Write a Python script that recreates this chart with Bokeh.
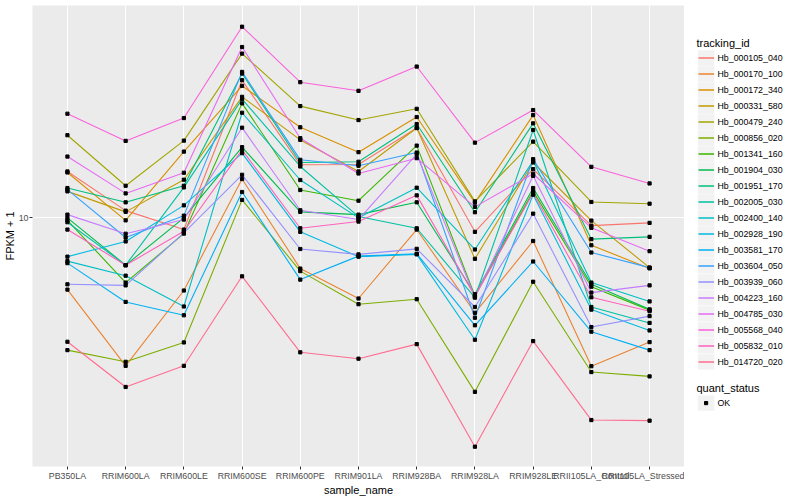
from bokeh.plotting import figure
from bokeh.models import FactorRange, Range1d, FixedTicker, BasicTickFormatter
from bokeh.layouts import row
from bokeh.embed import file_html
from bokeh.resources import INLINE
from bokeh.core.properties import value

samples = ["PB350LA", "RRIM600LA", "RRIM600LE", "RRIM600SE", "RRIM600PE", "RRIM901LA",
           "RRIM928BA", "RRIM928LA", "RRIM928LE", "RRII105LA_Control", "RRII105LA_Stressed"]

tracking_ids = ["Hb_000105_040", "Hb_000170_100", "Hb_000172_340", "Hb_000331_580", "Hb_000479_240",
                "Hb_000856_020", "Hb_001341_160", "Hb_001904_030", "Hb_001951_170", "Hb_002005_030",
                "Hb_002400_140", "Hb_002928_190", "Hb_003581_170", "Hb_003604_050", "Hb_003939_060",
                "Hb_004223_160", "Hb_004785_030", "Hb_005568_040", "Hb_005832_010", "Hb_014720_020"]

colors = ["#F8766D", "#EA8331", "#D89000", "#C09B00", "#A3A500", "#7CAE00", "#39B600", "#00BB4E",
          "#00BF7D", "#00C1A3", "#00BFC4", "#00BAE0", "#00B0F6", "#35A2FF", "#9590FF", "#C77CFF",
          "#E76BF3", "#FA62DB", "#FF62BC", "#FF6C91"]

# FPKM + 1 per sample (order of `samples`)
hb_000105_040 = [14.27, 10.55, 9.12, 28.84, 15.02, 15.05, 19.95, 8.96, 14.53, 9.40, 9.60]
hb_000170_100 = [5.74, 3.19, 5.70, 13.46, 6.75, 5.36, 9.12, 4.80, 8.35, 3.18, 3.83]
hb_000172_340 = [14.16, 9.79, 16.63, 27.61, 20.06, 16.56, 21.71, 11.22, 22.04, 8.08, 6.76]
hb_000331_580 = [12.24, 10.45, 13.39, 25.37, 18.20, 14.27, 19.95, 7.28, 15.29, 9.77, 6.80]
hb_000479_240 = [18.87, 12.78, 18.10, 35.40, 23.62, 21.21, 23.13, 11.33, 17.96, 11.28, 11.13]
hb_000856_020 = [3.60, 3.29, 3.82, 11.46, 6.62, 5.13, 5.33, 2.61, 6.10, 3.04, 2.94]
hb_001341_160 = [9.79, 6.06, 8.84, 24.12, 12.37, 11.39, 17.42, 5.47, 12.24, 5.87, 4.90]
hb_001904_030 = [9.98, 6.93, 9.98, 17.21, 10.45, 10.23, 11.25, 5.54, 12.56, 5.98, 4.93]
hb_001951_170 = [12.56, 11.25, 12.78, 30.36, 15.29, 15.38, 20.57, 10.42, 20.68, 8.47, 8.62]
hb_002005_030 = [9.65, 6.93, 12.62, 24.93, 14.83, 10.08, 9.21, 5.40, 19.65, 5.02, 4.44]
hb_002400_140 = [7.15, 6.39, 5.04, 22.44, 13.36, 9.98, 12.59, 7.82, 15.49, 6.06, 5.24]
hb_002928_190 = [7.40, 8.32, 10.99, 16.43, 8.96, 7.40, 7.53, 3.90, 11.93, 4.92, 4.19]
hb_003581_170 = [7.04, 5.22, 4.71, 12.18, 6.20, 7.43, 7.57, 4.36, 7.13, 4.15, 3.60]
hb_003604_050 = [12.40, 8.58, 10.15, 30.74, 15.61, 14.91, 16.51, 4.62, 15.69, 7.64, 6.80]
hb_003939_060 = [5.98, 5.93, 8.89, 13.91, 7.85, 7.53, 7.86, 5.02, 10.31, 4.30, 4.68]
hb_004223_160 = [10.23, 8.83, 9.85, 20.00, 10.58, 9.85, 16.31, 5.41, 13.80, 5.61, 5.93]
hb_004785_030 = [16.01, 12.05, 14.13, 37.24, 18.44, 14.05, 15.81, 10.86, 14.02, 9.24, 7.72]
hb_005568_040 = [22.27, 18.06, 21.54, 43.55, 28.40, 26.57, 32.04, 17.82, 22.91, 14.79, 13.01]
hb_005832_010 = [9.12, 6.93, 9.00, 16.85, 9.21, 9.70, 11.87, 5.45, 12.09, 5.41, 4.86]
hb_014720_020 = [3.84, 2.71, 3.19, 6.36, 3.54, 3.37, 3.77, 1.71, 3.86, 2.10, 2.09]

series = [hb_000105_040, hb_000170_100, hb_000172_340, hb_000331_580, hb_000479_240,
          hb_000856_020, hb_001341_160, hb_001904_030, hb_001951_170, hb_002005_030,
          hb_002400_140, hb_002928_190, hb_003581_170, hb_003604_050, hb_003939_060,
          hb_004223_160, hb_004785_030, hb_005568_040, hb_005832_010, hb_014720_020]

FONT = "Liberation Sans"
H = 498

p = figure(width=684, height=H,
           x_range=FactorRange(*samples, range_padding=0.1, range_padding_units="absolute"),
           y_axis_type="log", y_range=Range1d(1.468, 51.29),
           output_backend="svg", toolbar_location=None,
           min_border_top=5, min_border_right=0, min_border_left=0, min_border_bottom=0)
p.background_fill_color = "#EBEBEB"
p.border_fill_color = "white"
p.outline_line_color = None
p.grid.grid_line_color = "white"
p.grid.grid_line_width = 1.1
p.ygrid.ticker = FixedTicker(ticks=[10])
p.ygrid.minor_grid_line_color = None
p.yaxis.ticker = FixedTicker(ticks=[10])
p.yaxis.formatter = BasicTickFormatter()
p.xaxis.axis_label = "sample_name"
p.yaxis.axis_label = "FPKM + 1"
for ax in p.axis:
    ax.axis_line_color = None
    ax.major_tick_line_color = "#333333"
    ax.major_tick_out = 3
    ax.major_tick_in = 0
    ax.minor_tick_line_color = None
    ax.major_label_text_font = FONT
    ax.major_label_text_font_size = "8.8px"
    ax.major_label_text_color = "#4D4D4D"
    ax.major_label_standoff = 1
    ax.axis_label_text_font = FONT
    ax.axis_label_text_font_size = "11px"
    ax.axis_label_text_font_style = "normal"
    ax.axis_label_text_color = "black"
    ax.axis_label_standoff = 0

for vals, c in zip(series, colors):
    p.line(x=samples, y=vals, line_color=c, line_width=1.1)

px, py = [], []
for vals in series:
    px.extend(samples)
    py.extend(vals)
p.scatter(x=px, y=py, marker="square", size=3.2, color="black")

# legend panel (coordinates in page pixels, x relative to the panel's right edge)
p2 = figure(width=114, height=H, x_range=Range1d(0, 114), y_range=Range1d(H, 0),
            output_backend="svg", toolbar_location=None, min_border=0,
            x_axis_location=None, y_axis_location=None)
p2.grid.visible = False
p2.outline_line_color = None
p2.background_fill_color = "white"

p2.text(x=[12], y=[40.7], text=["tracking_id"], text_font=value(FONT), text_font_size="11px",
        text_baseline="middle", text_color="black")
ky = [56.7 + i * 17.28 for i in range(len(tracking_ids))]
p2.rect(x=[21.6] * len(ky), y=ky, width=16.6, height=16.6, fill_color="#F2F2F2", line_color=None)
p2.segment(x0=[14] * len(ky), x1=[29.5] * len(ky), y0=ky, y1=ky, line_color=colors, line_width=1.5)
p2.text(x=[33] * len(ky), y=ky, text=tracking_ids, text_font=value(FONT), text_font_size="8.8px",
        text_baseline="middle", text_color="black")

p2.text(x=[12], y=[412.7], text=["quant_status"], text_font=value(FONT), text_font_size="11px",
        text_baseline="middle", text_color="black")
p2.rect(x=[21.6], y=[429.5], width=16.6, height=16.6, fill_color="#F2F2F2", line_color=None)
p2.scatter(x=[21.6], y=[429.5], marker="square", size=3.2, color="black")
p2.text(x=[33], y=[429.5], text=["OK"], text_font=value(FONT), text_font_size="8.8px",
        text_baseline="middle", text_color="black")

layout = row(p, p2)
open("out.html", "w").write(file_html(layout, INLINE, title="expression plot"))
